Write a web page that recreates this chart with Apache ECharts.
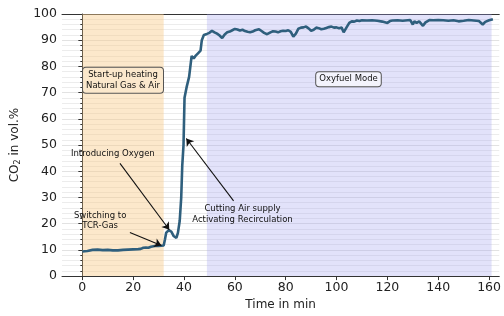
<!DOCTYPE html>
<html>
<head>
<meta charset="utf-8">
<script src="https://cdn.jsdelivr.net/npm/echarts@6/dist/echarts.min.js"></script>
<style>
  html, body { margin: 0; padding: 0; background: #fff; }
  #chart { width: 504px; height: 316px; }
</style>
</head>
<body>
<div id="chart"></div>
<script>
// time in min
const times = [
  0, 2, 4, 6, 8, 10, 12, 14, 16, 18, 20, 22, 23, 23.5, 24, 25, 26, 27, 28, 29, 30, 31, 32,
  32.5, 33, 34, 35, 36, 37, 37.6, 38.3, 38.9, 39.3, 39.8, 40.2, 41, 42, 43, 43.8, 44.5, 45.5, 46.5,
  47, 47.8, 49, 50, 51, 52, 53, 54, 55, 56, 57, 58, 59, 60, 61, 62, 63, 64, 65, 66, 67, 68,
  69.5, 70.5, 71.5, 72.7, 74, 75, 76, 77, 78, 79, 80, 81, 82, 83, 84, 85, 86, 87, 88, 89, 90,
  91, 92, 93, 94, 95, 96, 97, 98, 99, 100, 101, 102, 102.8, 103.5, 104, 105, 106, 107, 108, 109,
  110, 112, 114, 116, 118, 120, 121, 122, 124, 126, 128, 129, 130, 130.6, 131.5, 132.5, 134, 135,
  136.5, 138, 140, 142, 144, 146, 148, 150, 152, 154, 156, 157.5, 158.5, 160, 161.5
]
// CO2 in vol.%
const co2 = [
  9.4, 9.6, 10.0, 10.1, 9.9, 10.0, 9.8, 9.8, 10.0, 10.1, 10.2, 10.3, 10.4, 11.0, 10.8, 10.9, 10.8, 11.2, 11.4, 11.6, 11.5, 11.6, 11.7,
  14.0, 16.6, 17.5, 17.0, 15.2, 14.6, 16.5, 21, 30, 42, 50, 68, 72, 76, 84, 83, 84, 85, 86,
  90, 92, 92.4, 92.8, 93.6, 93.0, 92.5, 91.8, 90.8, 92.2, 93.0, 93.3, 93.8, 94.3, 94.1, 93.7, 94.0, 93.5, 93.2, 93.0, 93.3, 93.8,
  94.2, 93.5, 92.8, 92.3, 93.0, 93.4, 93.3, 93.0, 93.4, 93.6, 93.5, 93.8, 93.2, 91.4, 92.5, 94.4, 94.8, 94.9, 95.2, 94.5, 93.6,
  94.0, 94.8, 94.6, 94.2, 94.4, 94.7, 95.0, 95.2, 94.8, 94.9, 94.6, 94.8, 93.0, 92.6, 95.0, 96.6, 97.2, 97.1, 97.5, 97.3,
  97.6, 97.5, 97.6, 97.4, 97.1, 96.6, 97.3, 97.5, 97.6, 97.4, 97.6, 97.7, 96.0, 97.2, 96.6, 97.2, 95.5, 96.8,
  97.7, 97.6, 97.7, 97.6, 97.4, 97.6, 97.2, 97.4, 97.7, 97.5, 97.3, 96.0, 97.0, 97.6, 98.0
]
const xTicks = [0, 20, 40, 60, 80, 100, 120, 140, 160]
// operating phases [start, end]
const startupPhase = [0, 32]
const oxyfuelPhase = [49, 161]

const font = 'DejaVu Sans'
const chart = echarts.init(document.getElementById('chart'))

const boxLabel = (bg) => ({
  show: true,
  position: 'inside',
  fontFamily: font,
  fontSize: 8.5,
  lineHeight: 11,
  color: '#111',
  align: 'center',
  backgroundColor: bg,
  borderColor: '#555',
  borderWidth: 1,
  borderRadius: 3,
  padding: [2, 3, 1, 3],
})
const plainLabel = {
  show: true,
  position: 'inside',
  fontFamily: font,
  fontSize: 8.5,
  lineHeight: 10.5,
  color: '#111',
  align: 'center',
}
const textPoint = (name, x, y, label) => ({
  name: name,
  coord: [x, y],
  symbol: 'rect',
  symbolSize: 1,
  itemStyle: { color: 'rgba(0,0,0,0)' },
  label: Object.assign({ formatter: name }, label),
})

const xRange = { min: -8, max: 164 }

const option = {
  animation: false,
  grid: {
    left: 62,
    right: 0,
    top: 14,
    bottom: 37,
  },
  xAxis: [
    {
      type: 'value',
      min: xRange.min,
      max: xRange.max,
      name: 'Time in min',
      nameLocation: 'middle',
      nameGap: 21,
      nameTextStyle: { fontFamily: font, fontSize: 12, color: '#222' },
      axisLine: { show: true, lineStyle: { color: '#333' } },
      axisTick: { show: true, customValues: xTicks, length: 4, lineStyle: { color: '#333' } },
      axisLabel: { customValues: xTicks, fontFamily: font, fontSize: 12.5, color: '#222', margin: 5 },
      splitLine: { show: false },
    },
    {
      // top spine only
      type: 'value',
      position: 'top',
      min: xRange.min,
      max: xRange.max,
      axisLine: { show: true, lineStyle: { color: '#333' } },
      axisTick: { show: false },
      axisLabel: { show: false },
      splitLine: { show: false },
    },
  ],
  yAxis: {
    type: 'value',
    min: 0,
    max: 100,
    interval: 10,
    name: 'CO{sub|2} in vol.%',
    nameLocation: 'middle',
    nameGap: 38,
    nameTextStyle: {
      fontFamily: font, fontSize: 12, color: '#222',
      rich: { sub: { fontFamily: font, fontSize: 8, verticalAlign: 'bottom', padding: [6, 0, 0, 0] } },
    },
    axisLine: { show: true, lineStyle: { color: '#333' } },
    axisTick: { show: true, length: 4, lineStyle: { color: '#333' } },
    minorTick: { show: true, splitNumber: 5, length: 2, lineStyle: { color: '#333' } },
    axisLabel: { fontFamily: font, fontSize: 12.5, color: '#222', margin: 5 },
    splitLine: { show: true, lineStyle: { color: '#e2e2e2', width: 1 } },
    minorSplitLine: { show: true, lineStyle: { color: '#ececec', width: 1 } },
  },
  series: [
    {
      // shaded phases
      type: 'line',
      data: [],
      silent: true,
      z: 1,
      markArea: {
        silent: true,
        data: [
          [
            { xAxis: startupPhase[0], itemStyle: { color: 'rgba(249,205,140,0.45)' } },
            { xAxis: startupPhase[1] },
          ],
          [
            { xAxis: oxyfuelPhase[0], itemStyle: { color: 'rgba(160,160,240,0.3)' } },
            { xAxis: oxyfuelPhase[1] },
          ],
        ],
      },
    },
    {
      type: 'line',
      data: times.map((t, i) => [t, co2[i]]),
      showSymbol: false,
      z: 3,
      lineStyle: { color: '#2f5f7d', width: 2.6 },
      markLine: {
        silent: true,
        symbol: ['none', 'arrow'],
        symbolSize: 7,
        label: { show: false },
        lineStyle: { color: '#111', width: 1.1, type: 'solid' },
        data: [
          [{ coord: [14.8, 43] }, { coord: [34.2, 17.7] }],
          [{ coord: [18.7, 16.6] }, { coord: [31.1, 11.7] }],
          [{ coord: [59.5, 28.7] }, { coord: [40.9, 52.5] }],
        ],
      },
      markPoint: {
        silent: true,
        data: [
          textPoint('Start-up heating\nNatural Gas & Air', 16, 74.7, boxLabel('#fbe8cc')),
          textPoint('Oxyfuel Mode', 104.7, 75.1, boxLabel('#f3f3fc')),
          textPoint('Introducing Oxygen', 12, 46.8, plainLabel),
          textPoint('Switching to\nTCR-Gas', 7, 21.1, plainLabel),
          textPoint('Cutting Air supply\nActivating Recirculation', 63, 23.6, plainLabel),
        ],
      },
    },
  ],
}

chart.setOption(option)
window.addEventListener('resize', () => {
  chart.resize()
})
</script>
</body>
</html>
